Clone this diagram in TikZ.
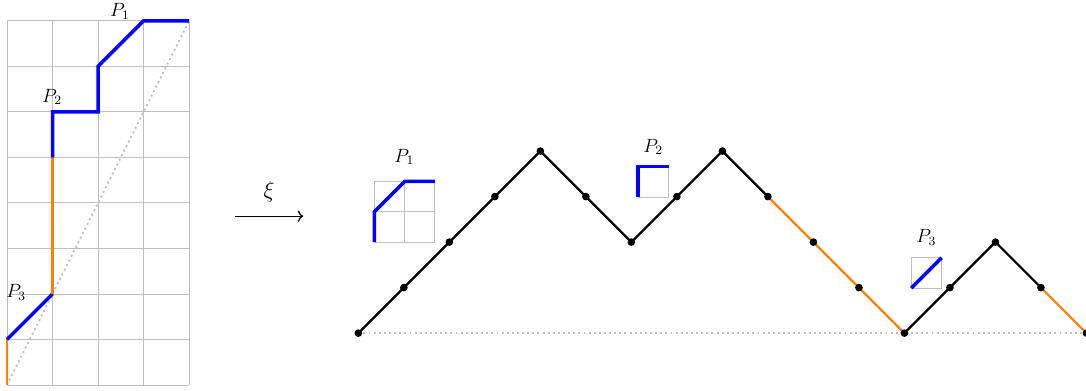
\documentclass[tikz,border=0pt]{standalone}
\usepackage{amsmath,amssymb}
\usepackage{tikz}
\usetikzlibrary{arrows.meta,positioning}
\definecolor{pathblue}{RGB}{0,0,255}
\definecolor{pathorange}{RGB}{255,128,0}
\definecolor{gridgray}{RGB}{190,190,190}

\begin{document}
\begin{tikzpicture}[every node/.style={font=\large}]
        \useasboundingbox (-0.154,-0.11) rectangle (23.71,8.46);
        % lattice path in the grid
        \draw[gridgray,line width=0.6pt] (0,0) grid (4,8);
        \draw[gridgray,dotted,line width=1.2pt] (0,0) -- (4,8);
        \draw[pathorange,line width=1.8pt] (0,0) -- (0,1);
        \draw[pathblue,line width=2.2pt] (0,1) -- (1,2);
        \draw[pathorange,line width=1.8pt] (1,2) -- (1,5);
        \draw[pathblue,line width=2.2pt] (1,5) -- (1,6) -- (2,6) -- (2,7) -- (3,8) -- (4,8);
        \node (p1) at (2.48,8.2) {$P_1$};
        \node (p2) at (0.99,6.33) {$P_2$};
        \node (p3) at (0.2,2.04) {$P_3$};
        % the map
        \coordinate (arrL) at (5.01,3.71);
        \coordinate (arrR) at (6.51,3.71);
        \draw[->,thick] (arrL) -- (arrR);
        \node[font=\Large] (xi) at (5.76,4.24) {$\xi$};
        % Dyck path
        \begin{scope}[shift={(7.72,1.14)}]
          \foreach \h [count=\i from 0] in {0,1,2,3,4,3,2,3,4,3,2,1,0,1,2,1,0}
            \coordinate (d\i) at (\i,\h);
        \end{scope}
        \draw[gridgray,dotted,line width=1.2pt] (d0) -- (d16);
        \draw[black,line width=1.4pt] (d0) -- (d4) -- (d6) -- (d8) -- (d9);
        \draw[black,line width=1.4pt] (d12) -- (d14) -- (d15);
        \draw[pathorange,line width=1.4pt] (d9) -- (d12);
        \draw[pathorange,line width=1.4pt] (d15) -- (d16);
        \foreach \i in {0,...,16}
          \fill (d\i) circle (2.4pt);
        % the pieces
        \begin{scope}[shift={(8.07,3.14)},scale=2/3]
          \draw[gridgray,line width=0.6pt] (0,0) grid (2,2);
          \draw[pathblue,line width=2.2pt] (0,0) -- (0,1) -- (1,2) -- (2,2);
        \end{scope}
        \node (q1) at (8.73,5.01) {$P_1$};
        \begin{scope}[shift={(13.87,4.13)},scale=2/3]
          \draw[gridgray,line width=0.6pt] (0,0) rectangle (1,1);
          \draw[pathblue,line width=2.2pt] (0,0) -- (0,1) -- (1,1);
        \end{scope}
        \node (q2) at (14.2,5.23) {$P_2$};
        \begin{scope}[shift={(19.87,2.13)},scale=2/3]
          \draw[gridgray,line width=0.6pt] (0,0) rectangle (1,1);
          \draw[pathblue,line width=2.2pt] (0,0) -- (1,1);
        \end{scope}
        \node (q3) at (20.2,3.25) {$P_3$};
      \end{tikzpicture}
\end{document}
